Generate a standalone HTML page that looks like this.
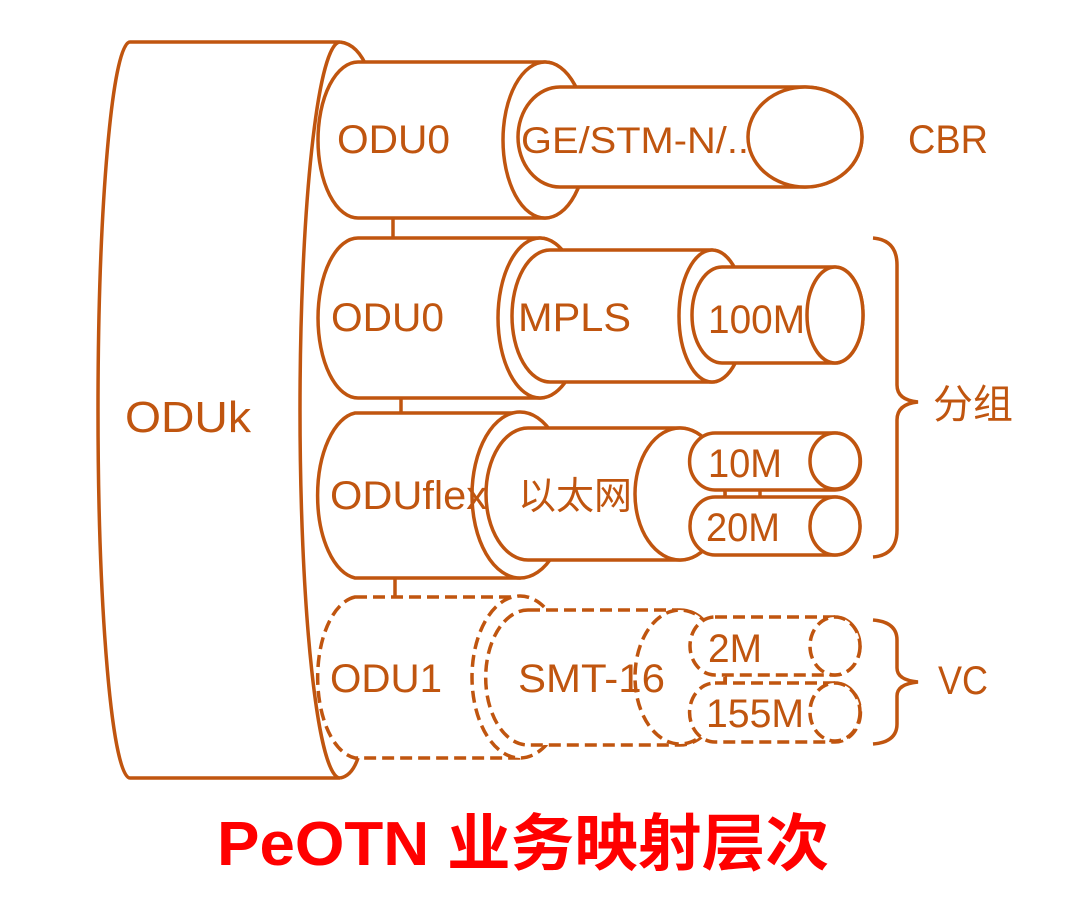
<!DOCTYPE html>
<html><head><meta charset="utf-8"><style>
html,body{margin:0;padding:0;background:#fff;width:1080px;height:916px;overflow:hidden}
svg{display:block}
text{font-family:"Liberation Sans","Noto Sans CJK SC",sans-serif;fill:#c0550f}
</style></head><body>
<svg width="1080" height="916" viewBox="0 0 1080 916" xmlns="http://www.w3.org/2000/svg">
<g stroke="#c0550f" stroke-width="3.5" fill="#fff">
<!-- ODUk -->
<path d="M130,42 L340,42 A40,368 0 0 0 340,778 L130,778 A32,368 0 0 1 130,42 Z"/>
<path fill="none" d="M340,42 Q358,44 368,70"/>
<path fill="none" d="M340,778 Q352,776 358,758"/>
<!-- connectors -->
<line x1="393" y1="215" x2="393" y2="240"/>
<line x1="401" y1="395" x2="401" y2="415"/>
<line x1="395" y1="577" x2="395" y2="598"/>
<!-- ODU0 #1 -->
<path d="M358,62 L545,62 A42,78 0 0 1 545,218 L358,218 A40,78 0 0 1 358,62 Z"/>
<ellipse cx="545" cy="140" rx="42" ry="78"/>
<path d="M560,87 L805,87 A57,50 0 0 1 805,187 L560,187 A42,50 0 0 1 560,87 Z"/>
<!-- ODU0 #2 -->
<path d="M358,238 L540,238 A42,80 0 0 1 540,398 L358,398 A40,80 0 0 1 358,238 Z"/>
<ellipse cx="540" cy="318" rx="42" ry="80"/>
<path d="M550,250 L712,250 A33,66 0 0 1 712,382 L550,382 A38,66 0 0 1 550,250 Z"/>
<ellipse cx="712" cy="316" rx="33" ry="66"/>
<path d="M722,267 L835,267 A28,48 0 0 1 835,363 L722,363 A30,48 0 0 1 722,267 Z"/>
<ellipse cx="835" cy="315" rx="28" ry="48"/>
<!-- ODUflex -->
<path d="M355,413 L520,413 A48,83 0 0 1 520,578 L355,578 A42,83 0 0 1 355,413 Z"/>
<ellipse cx="520" cy="495" rx="48" ry="83"/>
<path d="M528,428 L680,428 A45,66 0 0 1 680,560 L528,560 A42,66 0 0 1 528,428 Z"/>
<ellipse cx="680" cy="494" rx="45" ry="66"/>
<path d="M715,433 L835,433 A25,28 0 0 1 835,490 L715,490 A25,28 0 0 1 715,433 Z"/>
<ellipse cx="835" cy="461" rx="25" ry="28"/>
<path d="M715,497 L835,497 A25,29 0 0 1 835,555 L715,555 A25,29 0 0 1 715,497 Z"/>
<ellipse cx="835" cy="526" rx="25" ry="29"/>
<line x1="760" y1="490" x2="760" y2="497"/>
<!-- ODU1 dashed -->
<g stroke-dasharray="12,6">
<path d="M355,597 L520,597 A48,81 0 0 1 520,758 L355,758 A42,81 0 0 1 355,597 Z"/>
<ellipse cx="520" cy="677" rx="48" ry="81"/>
<path d="M528,610 L680,610 A45,67 0 0 1 680,745 L528,745 A42,67 0 0 1 528,610 Z"/>
<ellipse cx="680" cy="677" rx="45" ry="67"/>
<path d="M715,617 L835,617 A25,29 0 0 1 835,675 L715,675 A25,29 0 0 1 715,617 Z"/>
<ellipse cx="835" cy="646" rx="25" ry="29"/>
<path d="M715,683 L835,683 A25,29 0 0 1 835,742 L715,742 A25,29 0 0 1 715,683 Z"/>
<ellipse cx="835" cy="712" rx="25" ry="29"/>
</g>
<!-- brackets -->
<path fill="none" d="M873,238 Q897,240 897,265 L897,385 Q897,400 918,402 Q897,404 897,420 L897,530 Q897,555 873,557"/>
<path fill="none" d="M873,620 Q897,622 897,640 L897,668 Q897,680 918,682 Q897,684 897,696 L897,724 Q897,742 873,744"/>
</g>
<g font-size="40">
<text x="125" y="432" font-size="44" textLength="126" lengthAdjust="spacingAndGlyphs">ODUk</text>
<text x="337" y="153" textLength="113" lengthAdjust="spacingAndGlyphs">ODU0</text>
<text x="331" y="331" textLength="113" lengthAdjust="spacingAndGlyphs">ODU0</text>
<text x="330" y="509" textLength="157" lengthAdjust="spacingAndGlyphs">ODUflex</text>
<text x="330" y="692" textLength="112" lengthAdjust="spacingAndGlyphs">ODU1</text>
<text x="521" y="153" font-size="37" textLength="228" lengthAdjust="spacingAndGlyphs">GE/STM-N/..</text>
<text x="518" y="331" textLength="113" lengthAdjust="spacingAndGlyphs">MPLS</text>
<text x="518" y="509" font-size="38">以太网</text>
<text x="518" y="692" textLength="147" lengthAdjust="spacingAndGlyphs">SMT-16</text>
<text x="708" y="333" textLength="97" lengthAdjust="spacingAndGlyphs">100M</text>
<text x="708" y="477" textLength="74" lengthAdjust="spacingAndGlyphs">10M</text>
<text x="706" y="541" textLength="74" lengthAdjust="spacingAndGlyphs">20M</text>
<text x="708" y="662" textLength="54" lengthAdjust="spacingAndGlyphs">2M</text>
<text x="706" y="727" textLength="98" lengthAdjust="spacingAndGlyphs">155M</text>
<text x="908" y="153" textLength="80" lengthAdjust="spacingAndGlyphs">CBR</text>
<text x="933" y="418">分组</text>
<text x="938" y="694" textLength="50" lengthAdjust="spacingAndGlyphs">VC</text>
</g>
<ellipse cx="805" cy="137" rx="57" ry="50" fill="#fff" stroke="#c0550f" stroke-width="3.5"/>
<text x="217" y="865" font-size="62" font-weight="bold" style="fill:#ff0000" textLength="612" lengthAdjust="spacingAndGlyphs">PeOTN 业务映射层次</text>
</svg>
</body></html>
